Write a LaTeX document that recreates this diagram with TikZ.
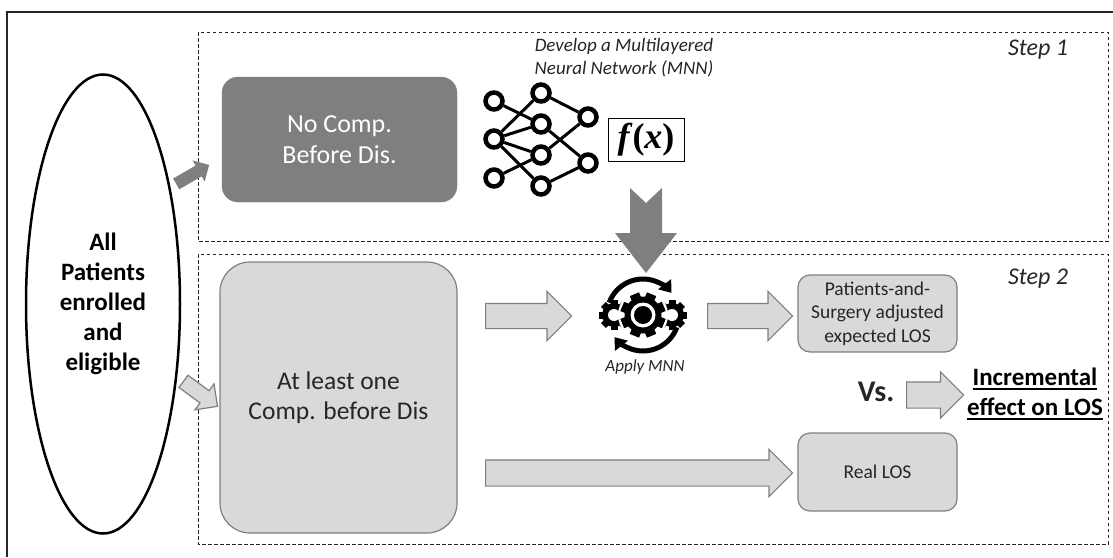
\documentclass[tikz,border=0pt]{standalone}
\usepackage{fontspec}
\setmainfont{Carlito}
\newfontfamily\timesfont{Liberation Serif}
\usetikzlibrary{positioning, calc, shapes.geometric, shapes.arrows, arrows.meta}

\definecolor{darkfill}{HTML}{7F7F7F}
\definecolor{lightfill}{HTML}{D9D9D9}
\definecolor{rimgray}{HTML}{7F7F7F}
\definecolor{inkgray}{HTML}{262626}

\newcommand{\thickul}[1]{\setbox0\hbox{#1}\rlap{\rule[-5pt]{\wd0}{2pt}}\box0}

% block arrow from #2 to #3, half shaft #4, head extend #5
\newcommand{\blockarrow}[5][]{%
  \path let \p1=(#2), \p2=(#3), \n1={veclen(\x2-\x1,\y2-\y1)}, \n2={atan2(\y2-\y1,\x2-\x1)} in
    node[single arrow, inner xsep=0pt, inner ysep=#4, single arrow head extend=#5,
         minimum height=\n1, rotate=\n2, anchor=tail, #1] at (\p1) {};}

\begin{document}
\begin{tikzpicture}[x=1pt, y=-1pt,
  darkbox/.style={rectangle, rounded corners=16pt, fill=darkfill, draw=darkfill, text=white, align=center, font=\fontsize{26}{31}\selectfont},
  lightbox/.style={rectangle, rounded corners=12pt, fill=lightfill, draw=rimgray, line width=1.2pt, text=inkgray, align=center, font=\fontsize{19.5}{23.5}\selectfont},
  stepframe/.style={draw=inkgray, line width=0.9pt, dash pattern=on 3.5pt off 2.5pt},
  steplabel/.style={font=\itshape\fontsize{24}{28}\selectfont, text=inkgray},
  hollowarrow/.style={fill=lightfill, draw=rimgray, line width=1.2pt},
  solidarrow/.style={fill=darkfill},
  neuron/.style={circle, draw=black, line width=4.5pt, fill=white, minimum size=17pt, inner sep=0pt},
  synapse/.style={line width=3pt}
]
\useasboundingbox (0,0) rectangle (1113,557);

% frame and steps
\draw[line width=1.2pt, draw=inkgray] (7,557) -- (7,12) -- (1113,12);
\draw[stepframe] (198,32) rectangle (1108,241);
\draw[stepframe] (198,254) rectangle (1108,544);
\node[steplabel] (step1) at (1038,50) {Step 1};
\node[steplabel] (step2) at (1038,279) {Step 2};

% patients
\node[ellipse, draw, line width=2.5pt, minimum width=154pt, minimum height=459pt, align=center, font=\bfseries\fontsize{25}{30}\selectfont] (all) at (103,304) {All\\Patients\\enrolled\\and\\eligible};
\node[darkbox, minimum width=235pt, minimum height=125pt] (nocomp) at (339.5,139.5) {No Comp.\\Before Dis.};
\node[lightbox, rounded corners=30pt, minimum width=237pt, minimum height=271pt, font=\fontsize{25.5}{30}\selectfont] (comp) at (338.5,397.5) {At least one\\Comp. before Dis};

% network
\node[font=\itshape\fontsize{19}{23}\selectfont, align=center, text=inkgray] (mnn) at (624,58) {Develop a Multilayered\\Neural Network (MNN)};
\foreach \n/\x/\y in {i1/494/101, i2/494/139, i3/494/178, h1/541/93, h2/541/124, h3/541/155, h4/541/186, o1/588/117, o2/588/163}
  \node[neuron] (\n) at (\x,\y) {};
\foreach \a/\b in {i1/h2, i2/h1, i2/h2, i2/h3, i2/h4, i3/h3, h1/o1, h2/o2, h3/o1, h4/o2}
  \draw[synapse] (\a) -- (\b);
\node[draw, line width=0.9pt, inner sep=2pt, minimum width=76pt, minimum height=43pt, font=\timesfont\bfseries\fontsize{36}{36}\selectfont] (fx) at (646,139.5) {\textit{f}(\textit{x})};

% drop into step 2
\coordinate (drop) at (646,188);
\fill[darkfill] (drop) ++(-16,0) -- ++(16,15) -- ++(16,-15) -- ++(0,45) -- ++(15,0) -- ++(-31,40) -- ++(-31,-40) -- ++(15,0) -- cycle;

% apply
\node[minimum size=80pt, inner sep=0pt] (gear) at (643,315) {};
\begin{scope}[shift={(gear.center)}]
  \foreach \s in {-1,1} {
    \fill (29*\s,0) circle (12);
    \foreach \a in {0,45,90,135}
      \fill[rotate around={\a:(29*\s,0)}] (29*\s-3.5,-15) rectangle (29*\s+3.5,15);
    \fill[white] (29*\s,0) circle (6);
  }
  \fill[white] (0,0) circle (25);
  \fill (0,0) circle (18.5);
  \foreach \a in {22.5,67.5,112.5,157.5}
    \fill[rotate=\a] (-5,-22.5) rectangle (5,22.5);
  \fill[white] (0,0) circle (12.5);
  \fill (0,0) circle (9);
  \draw[line width=5pt, -{Triangle[length=11pt, width=16pt]}] (-160:36) arc (-160:-38:36);
  \draw[line width=5pt, -{Triangle[length=11pt, width=16pt]}] (20:36) arc (20:142:36);
\end{scope}
\node[font=\itshape\fontsize{17}{20}\selectfont, text=inkgray] (apply) at (645,367) {Apply MNN};

\node[lightbox, minimum width=159pt, minimum height=77pt] (expected) at (877.5,313.5) {Patients-and-\\Surgery adjusted\\expected LOS};
\node[lightbox, minimum width=159pt, minimum height=78pt] (real) at (877.5,472) {Real LOS};
\node[font=\bfseries\fontsize{30}{36}\selectfont, text=inkgray] (vs) at (876,392) {Vs.};
\node[font=\bfseries\fontsize{25}{30}\selectfont, align=center] (effect) at (1035,394) {\thickul{Incremental}\\\thickul{effect on LOS}};

% arrows
\coordinate (toNo) at (176,184);   \coordinate (atNo) at (209,165);
\coordinate (toComp) at (183,381); \coordinate (atComp) at (217,406);
\coordinate (toGear) at (485,316); \coordinate (atGear) at (571,316);
\coordinate (toExp) at (707,316);  \coordinate (atExp) at (792,316);
\coordinate (toEff) at (906,395);  \coordinate (atEff) at (963,395);
\coordinate (toReal) at (485,473); \coordinate (atReal) at (792,473);
\blockarrow[solidarrow]{toNo}{atNo}{6}{6}
\blockarrow[hollowarrow]{toComp}{atComp}{7}{8.5}
\blockarrow[hollowarrow]{toGear}{atGear}{12}{12}
\blockarrow[hollowarrow]{toExp}{atExp}{12}{12}
\blockarrow[hollowarrow]{toEff}{atEff}{12.5}{10}
\blockarrow[hollowarrow]{toReal}{atReal}{12.5}{10.5}
\end{tikzpicture}
\end{document}
